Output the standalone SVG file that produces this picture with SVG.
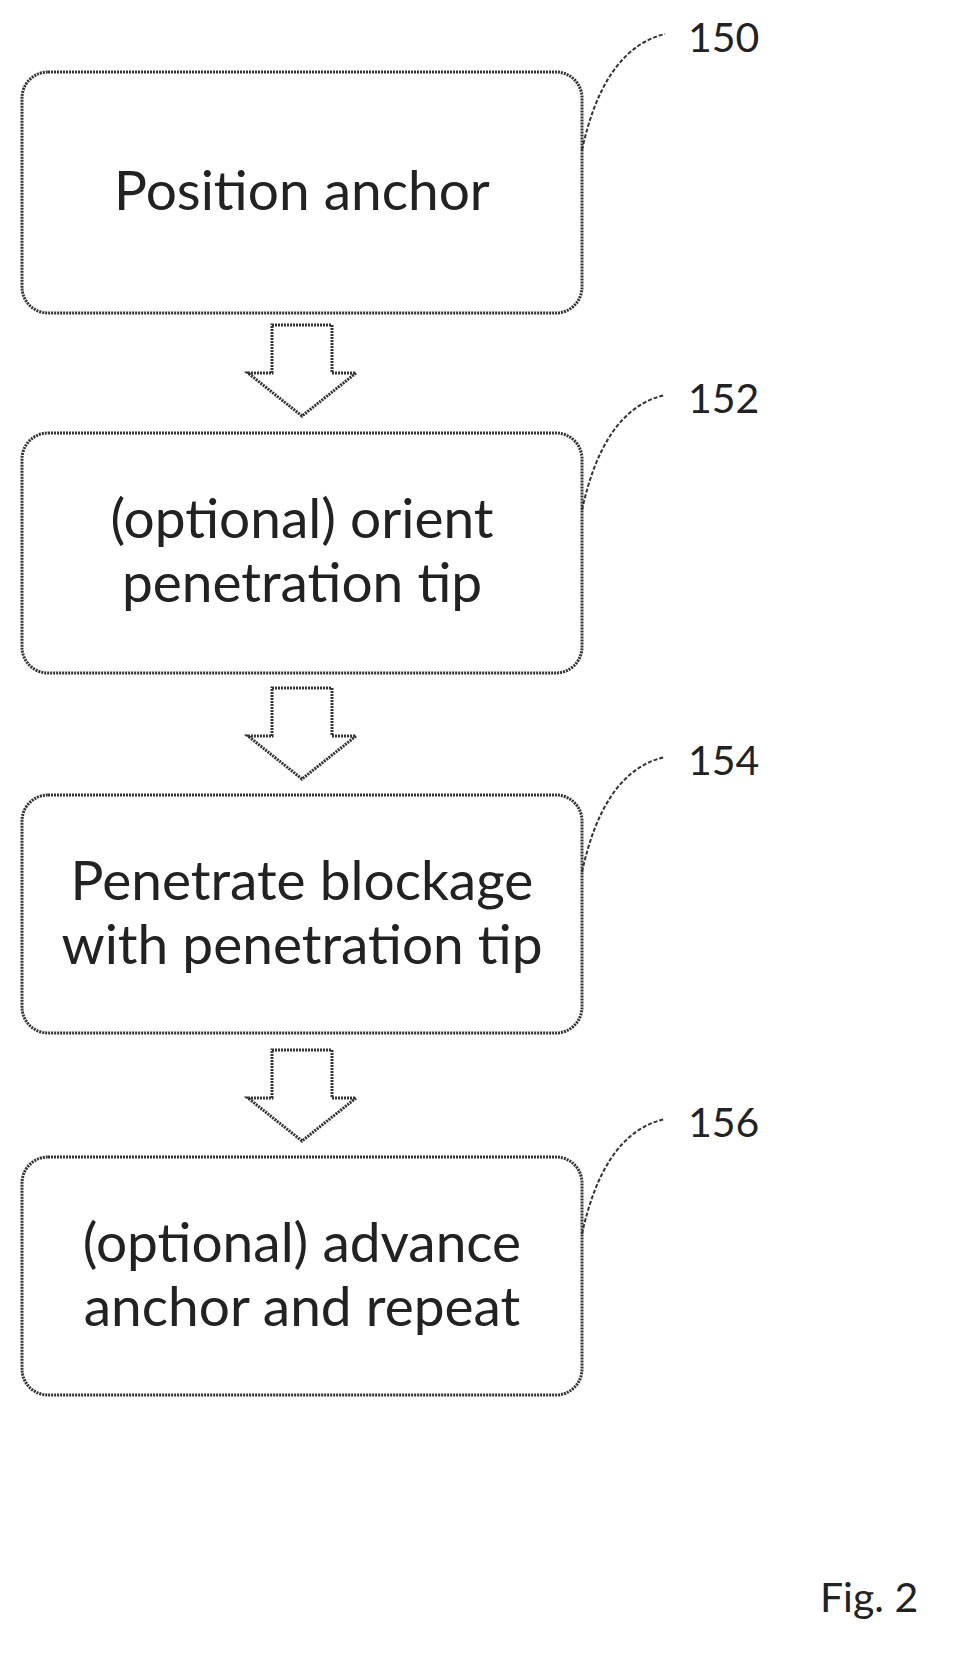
<svg xmlns="http://www.w3.org/2000/svg" width="968" height="1660" viewBox="0 0 968 1660">
<style>
.box{fill:#fff;stroke:#333;stroke-width:3;stroke-dasharray:2 1}
.t{font-family:Lato,"Open Sans",sans-serif;font-size:55px;fill:#222;text-anchor:middle}
.n{font-family:Lato,"Open Sans",sans-serif;font-size:41px;fill:#222}
.ld{fill:none;stroke:#333;stroke-width:2;stroke-dasharray:4 2}
.ar{fill:#fff;stroke:#333;stroke-width:3;stroke-dasharray:2 1}
</style>
<rect width="968" height="1660" fill="#fff"/>
<g id="n150"><rect class="box" x="22" y="72" width="560" height="241" rx="26"/><text class="t" x="302" y="210">Position anchor</text></g>
<g id="n152"><rect class="box" x="22" y="433" width="560" height="240" rx="26"/><text class="t" x="302" y="538">(optional) orient</text><text class="t" x="302" y="602">penetration tip</text></g>
<g id="n154"><rect class="box" x="22" y="795" width="560" height="238" rx="26"/><text class="t" x="302" y="900">Penetrate blockage</text><text class="t" x="302" y="964">with penetration tip</text></g>
<g id="n156"><rect class="box" x="22" y="1157" width="560" height="238" rx="26"/><text class="t" x="302" y="1262">(optional) advance</text><text class="t" x="302" y="1326">anchor and repeat</text></g>
<g id="connectors">
<path class="ar" d="M272 325 H332 V373 H356 L302 416 L248 373 H272 Z"/>
<path class="ar" d="M272 688 H332 V736 H356 L302 779 L248 736 H272 Z"/>
<path class="ar" d="M272 1050 H332 V1098 H356 L302 1141 L248 1098 H272 Z"/>
<path class="ld" d="M582 150 C595 90 620 45 665 34"/>
<path class="ld" d="M582 510 C595 450 620 405 665 395"/>
<path class="ld" d="M582 872 C595 812 620 767 665 757"/>
<path class="ld" d="M582 1234 C595 1174 620 1129 665 1119"/>
</g>
<g id="labels">
<text class="n" x="688" y="52">150</text>
<text class="n" x="688" y="413">152</text>
<text class="n" x="688" y="775">154</text>
<text class="n" x="688" y="1137">156</text>
<text class="n" x="820" y="1612" font-size="46">Fig. 2</text>
</g>
</svg>
